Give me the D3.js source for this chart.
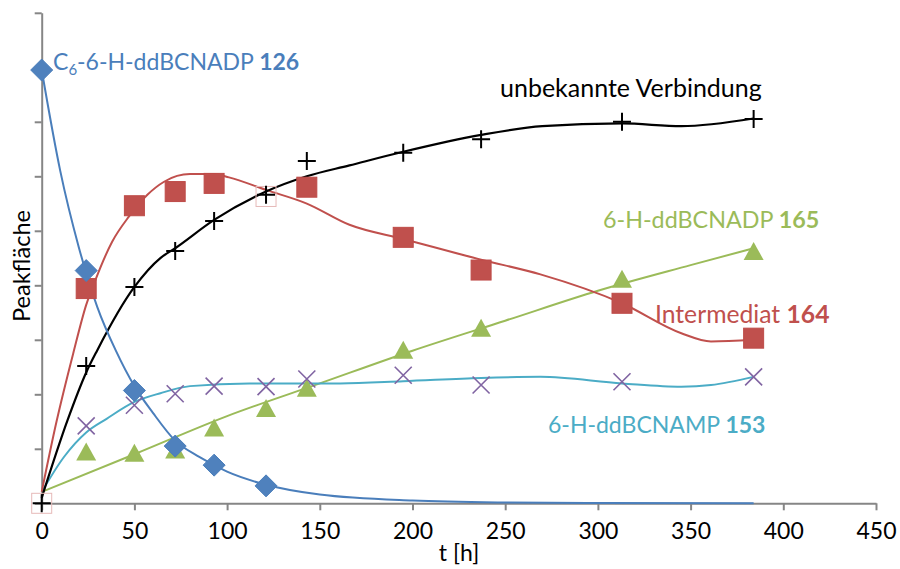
<!DOCTYPE html>
<html lang="de">
<head>
<meta charset="utf-8">
<script src="https://d3js.org/d3.v7.min.js"></script>
<style>
  body { margin: 0; background: #fff; }
  text { font-family: Lato, "Open Sans", sans-serif; }
</style>
</head>
<body>
<script>
var width = 900;
var height = 569;

// sampling times [h]
var hours = [0, 24, 50, 72, 93, 121, 143, 195, 237, 313, 384];

// measured peak areas (arbitrary units, one y tick = 1)
var c6Values      = [7.95, 4.27, 2.07, 1.05, 0.70, 0.32];
var unknownValues = [0, 2.52, 3.97, 4.63, 5.18, 5.66, 6.28, 6.43, 6.68, 7.00, 7.05];
var interValues   = [0, 3.94, 5.46, 5.72, 5.87, 5.63, 5.80, 4.88, 4.28, 3.67, 3.03];
var interHollow   = [true, false, false, false, false, true, false, false, false, false, false];
var nadpValues    = [null, 0.94, 0.92, 0.98, 1.38, 1.74, 2.11, 2.81, 3.21, 4.11, 4.62];
var nampValues    = [null, 1.42, 1.80, 2.01, 2.15, 2.14, 2.28, 2.35, 2.17, 2.23, 2.32];

// fitted curves
var c6FitT      = [0, 10, 20, 30, 40, 50, 60, 72, 85, 100, 121, 150, 200, 250, 300, 384];
var c6FitV      = [7.95, 6.1, 4.7, 3.6, 2.8, 2.15, 1.66, 1.15, 0.85, 0.58, 0.34, 0.16, 0.05, 0.015, 0.005, 0];
var unknownFitT = [0, 14, 24, 30, 50, 64, 72, 93, 121, 143, 166, 195, 237, 270, 313, 345, 384];
var unknownFitV = [0.1, 1.53, 2.4, 2.81, 3.97, 4.5, 4.68, 5.2, 5.72, 6.0, 6.2, 6.45, 6.76, 6.92, 6.97, 6.92, 7.06];
var interFitT   = [0, 8, 17, 24, 29, 38, 47, 57, 66, 80, 93, 101, 121, 143, 166, 195, 237, 269, 313, 345, 361, 384];
var interFitV   = [0.21, 1.5, 2.75, 3.64, 4.1, 4.8, 5.26, 5.66, 5.9, 6.04, 6.04, 5.98, 5.75, 5.5, 5.11, 4.85, 4.47, 4.2, 3.67, 3.12, 2.97, 3.0];
var nadpFitT    = [0, 50, 100, 150, 200, 250, 300, 350, 384];
var nadpFitV    = [0.21, 0.9, 1.6, 2.2, 2.8, 3.35, 3.9, 4.37, 4.68];
var nampFitT    = [0, 12, 24, 35, 50, 64, 80, 112, 161, 195, 237, 269, 313, 345, 361, 384];
var nampFitV    = [0.21, 0.85, 1.3, 1.55, 1.86, 2.02, 2.15, 2.2, 2.2, 2.24, 2.3, 2.32, 2.2, 2.14, 2.17, 2.32];

var xTicks = [0, 50, 100, 150, 200, 250, 300, 350, 400, 450];
var yTicks = [0, 1, 2, 3, 4, 5, 6, 7, 8, 9];

var blue = "#4a7ebb", red = "#c0504d", green = "#9bbb59", cyan = "#4bacc6", purple = "#8064a2";

var svg = d3.select("body").append("svg")
    .attr("width", width)
    .attr("height", height);

var x = d3.scaleLinear().domain([0, 450]).range([41.7, 876]);
var y = d3.scaleLinear().domain([0, 9]).range([503.3, 12.8]);

// axes
var xAxis = svg.append("g")
    .attr("transform", "translate(0," + y(0) + ")")
    .call(d3.axisBottom(x).tickValues(xTicks).tickSize(7).tickSizeOuter(0).tickPadding(12));
var yAxis = svg.append("g")
    .attr("transform", "translate(" + x(0) + ",0)")
    .call(d3.axisLeft(y).tickValues(yTicks).tickSize(7).tickSizeOuter(0).tickFormat(""));

svg.selectAll(".domain, .tick line")
    .attr("stroke", "#868686")
    .attr("stroke-width", 2);
xAxis.selectAll(".tick text")
    .attr("fill", "#000")
    .style("font-size", "23px")
    .attr("dy", "0.71em");

svg.append("text")
    .attr("x", 459).attr("y", 561)
    .attr("text-anchor", "middle")
    .style("font-size", "23px")
    .text("t [h]");

svg.append("text")
    .attr("transform", "translate(30,266) rotate(-90)")
    .attr("text-anchor", "middle")
    .style("font-size", "23.5px")
    .text("Peakfläche");

// fitted lines
function pairs(ts, vs) {
    return ts.map(function(t, i) { return [t, vs[i]]; });
}
var line = d3.line()
    .x(function(d) { return x(d[0]); })
    .y(function(d) { return y(d[1]); })
    .curve(d3.curveMonotoneX);

var fits = [
    [nadpFitT, nadpFitV, green, 2],
    [nampFitT, nampFitV, cyan, 2],
    [interFitT, interFitV, red, 2],
    [unknownFitT, unknownFitV, "#000", 2.2],
    [c6FitT, c6FitV, blue, 2]
];
fits.forEach(function(f) {
    svg.append("path")
        .attr("d", line(pairs(f[0], f[1])))
        .attr("fill", "none")
        .attr("stroke", f[2])
        .attr("stroke-width", f[3]);
});

// markers
var nadpPts = hours.map(function(t, i) { return [t, nadpValues[i]]; }).filter(function(d) { return d[1] != null; });
svg.selectAll(".tri").data(nadpPts).enter().append("path")
    .attr("transform", function(d) { return "translate(" + x(d[0]) + "," + y(d[1]) + ")"; })
    .attr("d", "M0,-9.5L10,8.5L-10,8.5Z")
    .attr("fill", green);

var nampPts = hours.map(function(t, i) { return [t, nampValues[i]]; }).filter(function(d) { return d[1] != null; });
svg.selectAll(".cross").data(nampPts).enter().append("path")
    .attr("transform", function(d) { return "translate(" + x(d[0]) + "," + y(d[1]) + ")"; })
    .attr("d", "M-8.5,-8.5L8.5,8.5M-8.5,8.5L8.5,-8.5")
    .attr("stroke", purple)
    .attr("stroke-width", 1.6);

var interPts = hours.map(function(t, i) { return [t, interValues[i], interHollow[i]]; });
svg.selectAll(".sq").data(interPts).enter().append("rect")
    .attr("x", function(d) { return x(d[0]) - 10; })
    .attr("y", function(d) { return y(d[1]) - 10; })
    .attr("width", 20).attr("height", 20)
    .attr("fill", function(d) { return d[2] ? "none" : red; })
    .attr("stroke", function(d) { return d[2] ? "#e6b9b8" : "#be4b48"; })
    .attr("stroke-width", 1);

var unknownPts = hours.map(function(t, i) { return [t, unknownValues[i]]; });
svg.selectAll(".plus").data(unknownPts).enter().append("path")
    .attr("transform", function(d) { return "translate(" + x(d[0]) + "," + y(d[1]) + ")"; })
    .attr("d", "M-9,0L9,0M0,-9L0,9")
    .attr("stroke", "#000")
    .attr("stroke-width", 2);

var c6Pts = c6Values.map(function(v, i) { return [hours[i], v]; });
svg.selectAll(".dia").data(c6Pts).enter().append("path")
    .attr("transform", function(d) { return "translate(" + x(d[0]) + "," + y(d[1]) + ")"; })
    .attr("d", "M0,-11L11,0L0,11L-11,0Z")
    .attr("fill", "#4f81bd")
    .attr("stroke", "#4a7ebb")
    .attr("stroke-width", 1);

// series labels
function label(px, py, color, size, parts) {
    var t = svg.append("text")
        .attr("x", px).attr("y", py)
        .attr("fill", color)
        .style("font-size", size + "px");
    parts.forEach(function(p) {
        var s = t.append("tspan").text(p.text);
        if (p.bold) s.style("font-weight", "bold");
        if (p.sub) s.attr("dy", 5).style("font-size", "15px");
        if (p.up) s.attr("dy", -5);
    });
    return t;
}
label(53, 70, blue, 23, [{text: "C"}, {text: "6", sub: true}, {text: "-6-H-ddBCNADP ", up: true}, {text: "126", bold: true}]);
label(500, 97, "#000", 25, [{text: "unbekannte Verbindung"}]);
label(603, 228, green, 23.3, [{text: "6-H-ddBCNADP "}, {text: "165", bold: true}]);
label(655, 323, red, 24.7, [{text: "Intermediat "}, {text: "164", bold: true}]);
label(548, 433, cyan, 23, [{text: "6-H-ddBCNAMP "}, {text: "153", bold: true}]);
</script>
</body>
</html>
